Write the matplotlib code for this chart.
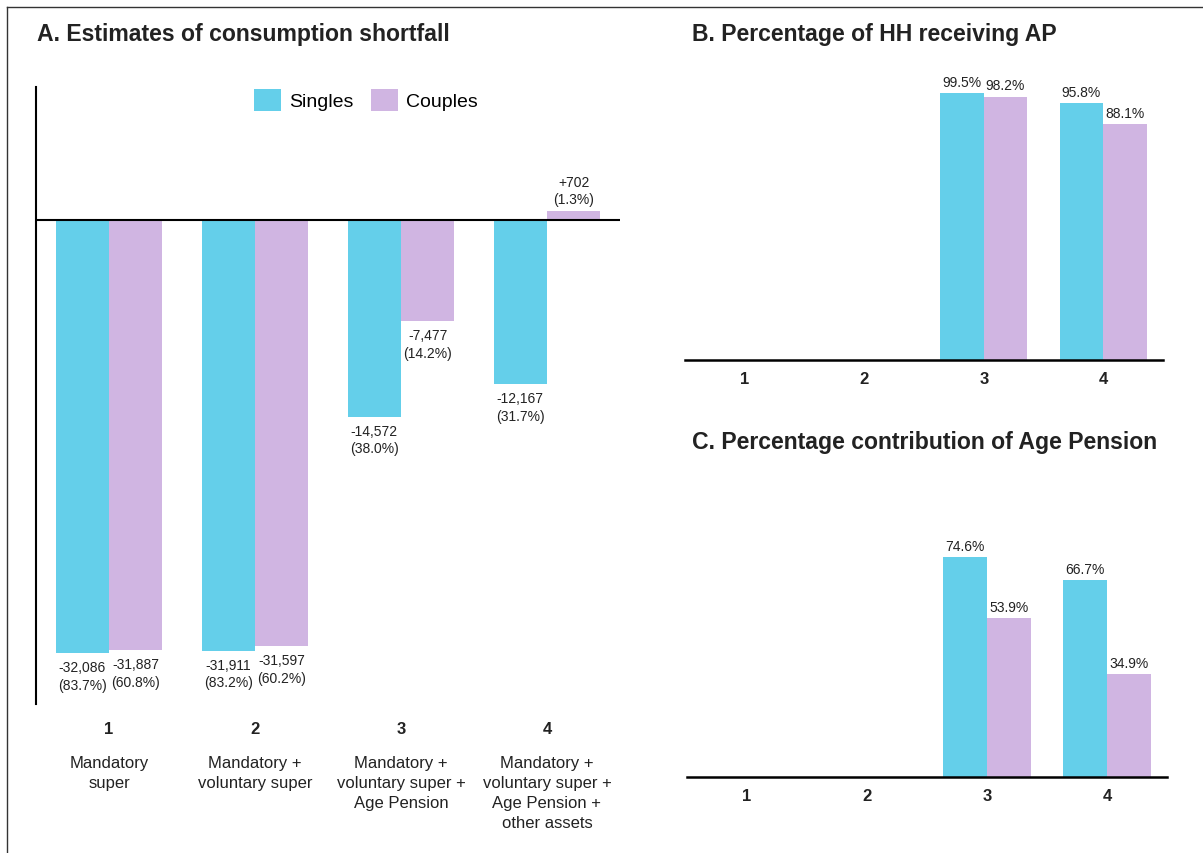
import numpy as np
import matplotlib.pyplot as plt
from matplotlib.lines import Line2D

plt.rcParams['font.family'] = ['Liberation Sans', 'DejaVu Sans']

# Datos
grupos = ['1', '2', '3', '4']
descripciones = ['Mandatory\nsuper',
                 'Mandatory +\nvoluntary super',
                 'Mandatory +\nvoluntary super +\nAge Pension',
                 'Mandatory +\nvoluntary super +\nAge Pension +\nother assets']

# Panel A: déficit de consumo
deficit_singles = [-32086, -31911, -14572, -12167]
deficit_couples = [-31887, -31597, -7477, 702]
pct_singles = ['83.7%', '83.2%', '38.0%', '31.7%']
pct_couples = ['60.8%', '60.2%', '14.2%', '1.3%']

# Panel B: porcentaje de hogares que reciben AP
hh_singles = [np.nan, np.nan, 99.5, 95.8]
hh_couples = [np.nan, np.nan, 98.2, 88.1]

# Panel C: contribución porcentual de la Age Pension
ap_singles = [np.nan, np.nan, 74.6, 66.7]
ap_couples = [np.nan, np.nan, 53.9, 34.9]

c_singles = '#64CFEA'
c_couples = '#D0B5E2'
ancho = 0.365
x = np.arange(len(grupos))

fig = plt.figure(figsize=(12.03, 8.54), dpi=100)
W, H = 1203, 854

# ---------- Panel A ----------
axA = fig.add_axes([36 / W, 149 / H, 584 / W, 617 / H])
bs = axA.bar(x - ancho / 2, deficit_singles, ancho, color=c_singles, label='Singles')
bc = axA.bar(x + ancho / 2, deficit_couples, ancho, color=c_couples, label='Couples')
axA.set_xlim(-0.5, 3.5)
axA.set_ylim(-35866, 9856)
axA.axhline(0, color='black', lw=1.5, zorder=3)
for s in ['top', 'right', 'bottom']:
    axA.spines[s].set_visible(False)
axA.spines['left'].set_linewidth(1.5)
axA.set_yticks([])
axA.set_xticks(x)
axA.set_xticklabels(grupos, fontsize=12, fontweight='bold', color='#222222')
axA.tick_params(axis='x', length=0, pad=12)

for barras, vals, pcts in [(bs, deficit_singles, pct_singles), (bc, deficit_couples, pct_couples)]:
    for b, v, p in zip(barras, vals, pcts):
        cx = b.get_x() + b.get_width() / 2
        if v < 0:
            axA.annotate('{:,.0f}\n({})'.format(v, p), (cx, v), xytext=(0, -5),
                         textcoords='offset points', ha='center', va='top',
                         fontsize=10, color='#222222', linespacing=1.35)
        else:
            axA.annotate('+{:,.0f}\n({})'.format(v, p), (cx, v), xytext=(0, 3),
                         textcoords='offset points', ha='center', va='bottom',
                         fontsize=10, color='#222222', linespacing=1.35)

for xi, d in zip(x, descripciones):
    axA.text(xi, -0.083, d, transform=axA.get_xaxis_transform(), ha='center', va='top',
             fontsize=12, color='#222222', linespacing=1.41)

axA.legend(loc='center', bbox_to_anchor=(366 / W, 1 - 101 / H), bbox_transform=fig.transFigure,
           ncol=2, frameon=False, fontsize=14, handlelength=1.4, handleheight=1.35,
           handletextpad=0.4, columnspacing=0.9)

# ---------- Paneles B y C ----------
def panel(ax, vs, vc, ymax):
    b1 = ax.bar(x - ancho / 2, vs, ancho, color=c_singles)
    b2 = ax.bar(x + ancho / 2, vc, ancho, color=c_couples)
    ax.set_xlim(-0.5, 3.5)
    ax.set_ylim(0, ymax)
    for s in ['top', 'right', 'left']:
        ax.spines[s].set_visible(False)
    ax.spines['bottom'].set_linewidth(1.8)
    ax.set_yticks([])
    ax.set_xticks(x)
    ax.set_xticklabels(grupos, fontsize=12, fontweight='bold', color='#222222')
    ax.tick_params(axis='x', length=0, pad=8)
    for barras, vals in [(b1, vs), (b2, vc)]:
        for b, v in zip(barras, vals):
            if np.isnan(v):
                continue
            ax.annotate('{:.1f}%'.format(v), (b.get_x() + b.get_width() / 2, v), xytext=(0, 3),
                        textcoords='offset points', ha='center', va='bottom',
                        fontsize=10, color='#222222')

axB = fig.add_axes([685 / W, (H - 361) / H, 478 / W, 291 / H])
panel(axB, hh_singles, hh_couples, 108.5)

axC = fig.add_axes([687 / W, (H - 778) / H, 480 / W, 298 / H])
panel(axC, ap_singles, ap_couples, 101)

# Títulos
fig.text(37 / W, 1 - 35 / H, 'A. Estimates of consumption shortfall', fontsize=16.6,
         fontweight='bold', color='#222222', va='center', ha='left')
fig.text(692 / W, 1 - 35 / H, 'B. Percentage of HH receiving AP', fontsize=16.6,
         fontweight='bold', color='#222222', va='center', ha='left')
fig.text(692 / W, 1 - 443 / H, 'C. Percentage contribution of Age Pension', fontsize=16.6,
         fontweight='bold', color='#222222', va='center', ha='left')

# Marco
fig.add_artist(Line2D([7 / W, 1], [1 - 8 / H, 1 - 8 / H], transform=fig.transFigure,
                      color='#333333', lw=1))
fig.add_artist(Line2D([7 / W, 7 / W], [0, 1 - 8 / H], transform=fig.transFigure,
                      color='#333333', lw=1))

fig.savefig('out.png', dpi=100)
